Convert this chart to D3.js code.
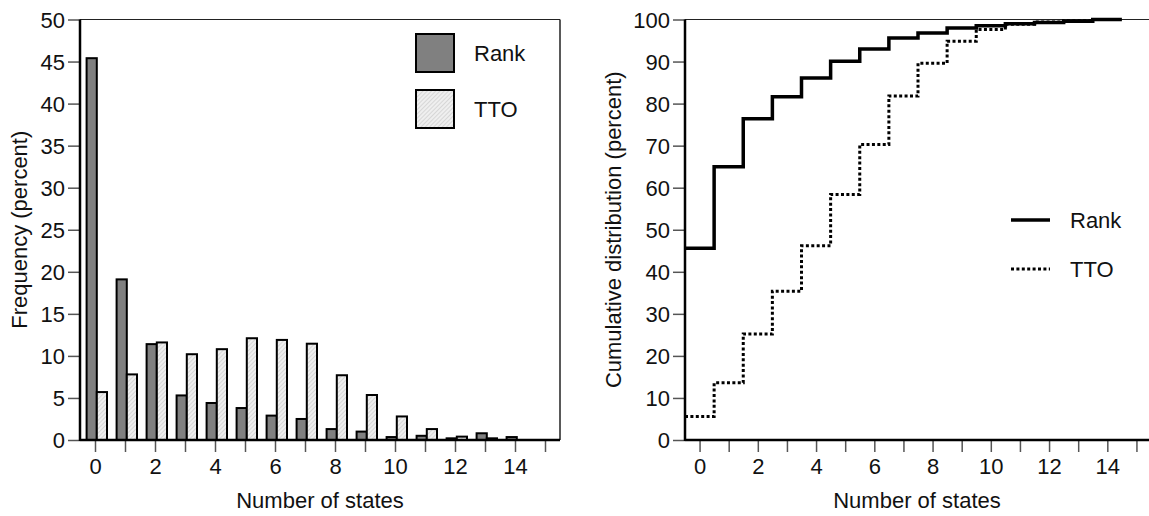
<!DOCTYPE html>
<html lang="en">
<head>
  <meta charset="UTF-8">
  <title>Number of states: Rank vs TTO</title>
  <script src="https://d3js.org/d3.v7.min.js"></script>
  <style>
    body { margin: 0; background: #fff; }
    svg { display: block; font-family: "Liberation Sans", Arial, sans-serif; }
  </style>
</head>
<body>
  <svg id="chart" width="1149" height="516"></svg>
  <script>
    // data
    const states = [0, 1, 2, 3, 4, 5, 6, 7, 8, 9, 10, 11, 12, 13, 14];
    const rankFreq = [45.4, 19.1, 11.4, 5.3, 4.4, 3.8, 2.9, 2.5, 1.3, 1.0, 0.35, 0.5, 0.2, 0.8, 0.35];
    const ttoFreq = [5.7, 7.8, 11.6, 10.2, 10.8, 12.1, 11.9, 11.45, 7.7, 5.35, 2.8, 1.3, 0.4, 0.2, 0];
    const rankCum = [45.6, 65.0, 76.4, 81.6, 86.1, 90.1, 93.0, 95.6, 96.8, 98.0, 98.5, 99.0, 99.3, 99.6, 100];
    const ttoCum = [5.6, 13.6, 25.2, 35.4, 46.2, 58.4, 70.3, 81.8, 89.6, 94.8, 97.6, 98.9, 99.4, 99.7];
    const seriesNames = ["Rank", "TTO"];
    const xTicks = d3.range(0, 16);
    const freqTicks = d3.range(0, 51, 5);
    const cumTicks = d3.range(0, 101, 10);

    const svg = d3.select("#chart");

    // hatch for the TTO bars
    const pat = svg.append("defs").append("pattern")
      .attr("id", "hatch")
      .attr("patternUnits", "userSpaceOnUse")
      .attr("width", 3).attr("height", 3)
      .attr("patternTransform", "rotate(45)");
    pat.append("rect").attr("width", 3).attr("height", 3).attr("fill", "#efefef");
    pat.append("line").attr("x1", 0).attr("y1", 0).attr("x2", 0).attr("y2", 3)
      .attr("stroke", "#b5b5b5").attr("stroke-width", 0.8);

    const plotTop = 19.5, plotBottom = 440;

    function drawAxes(x, y, yTicks, xLabel, yLabel, yTitleX, rightBorder) {
      const [x0, x1] = x.range();
      // thin top / right frame
      svg.append("line").attr("x1", x0).attr("x2", x1).attr("y1", plotTop).attr("y2", plotTop)
        .attr("stroke", "#222").attr("stroke-width", 1.2);
      if (rightBorder) {
        svg.append("line").attr("x1", x1).attr("x2", x1).attr("y1", plotTop).attr("y2", plotBottom)
          .attr("stroke", "#222").attr("stroke-width", 1.5);
      }

      const gx = svg.append("g").attr("transform", `translate(0,${plotBottom})`)
        .call(d3.axisBottom(x).tickValues(xTicks).tickSize(12).tickPadding(6)
          .tickFormat(d => d % 2 === 0 ? d : ""));
      gx.select(".domain").remove();
      gx.selectAll(".tick line").attr("stroke", "#555").attr("stroke-width", 1.5);
      gx.selectAll(".tick text").attr("font-size", 22).attr("fill", "#111");

      const gy = svg.append("g").attr("transform", `translate(${x0},0)`)
        .call(d3.axisLeft(y).tickValues(yTicks).tickSize(12).tickPadding(3));
      gy.select(".domain").remove();
      gy.selectAll(".tick line").attr("stroke", "#555").attr("stroke-width", 1.5);
      gy.selectAll(".tick text").attr("font-size", 22).attr("fill", "#111")
        .attr("dy", "0.36em");

      // thick left / bottom axis lines
      svg.append("line").attr("x1", x0).attr("x2", x0).attr("y1", plotTop).attr("y2", plotBottom + 1)
        .attr("stroke", "#000").attr("stroke-width", 2.5);
      svg.append("line").attr("x1", x0).attr("x2", x1).attr("y1", plotBottom).attr("y2", plotBottom)
        .attr("stroke", "#000").attr("stroke-width", 2.5);

      svg.append("text").attr("x", (x0 + Math.min(x1, 1149)) / 2)
        .attr("y", 508).attr("text-anchor", "middle")
        .attr("font-size", 22).attr("fill", "#111").text(xLabel);
      svg.append("text")
        .attr("transform", `translate(${yTitleX},${(plotTop + plotBottom) / 2}) rotate(-90)`)
        .attr("text-anchor", "middle").attr("font-size", 22).attr("fill", "#111").text(yLabel);
    }

    // ---- left: frequency bars ----
    const xL = d3.scaleLinear().domain([-0.5, 15.5]).range([80, 560]);
    const yL = d3.scaleLinear().domain([0, 50]).range([plotBottom, plotTop]);

    const barSets = [
      { vals: rankFreq, from: -0.28, to: 0.06, fill: "#808080" },
      { vals: ttoFreq, from: 0.06, to: 0.40, fill: "url(#hatch)" }
    ];
    barSets.forEach(s => {
      svg.append("g").selectAll("rect")
        .data(states.filter((d, i) => s.vals[i] > 0))
        .join("rect")
        .attr("x", d => xL(d + s.from))
        .attr("width", d => xL(d + s.to) - xL(d + s.from))
        .attr("y", d => yL(s.vals[d]))
        .attr("height", d => yL(0) - yL(s.vals[d]))
        .attr("fill", s.fill)
        .attr("stroke", "#000").attr("stroke-width", 2);
    });

    drawAxes(xL, yL, freqTicks, "Number of states", "Frequency (percent)", 27, true);

    // legend left
    const legL = svg.append("g");
    seriesNames.forEach((name, i) => {
      legL.append("rect").attr("x", 416).attr("y", 34 + i * 56).attr("width", 38).attr("height", 38)
        .attr("fill", barSets[i].fill).attr("stroke", "#000").attr("stroke-width", 2);
      legL.append("text").attr("x", 474).attr("y", 53 + i * 56).attr("dy", "0.36em")
        .attr("font-size", 22).attr("fill", "#111").text(name);
    });

    // ---- right: cumulative steps ----
    const xR = d3.scaleLinear().domain([-0.5, 15.5]).range([685, 1151]);
    const yR = d3.scaleLinear().domain([0, 100]).range([plotBottom, plotTop]);

    const step = d3.line().curve(d3.curveStepAfter)
      .x(d => xR(d[0])).y(d => yR(d[1]));
    const toSteps = vals => {
      const pts = vals.map((v, i) => [i - 0.5, v]);
      pts.push([vals.length - 0.5, vals[vals.length - 1]]);
      return pts;
    };

    const lineStyles = [
      { vals: rankCum, width: 3.5, dash: null },
      { vals: ttoCum, width: 3, dash: "3,2.4" }
    ];

    drawAxes(xR, yR, cumTicks, "Number of states", "Cumulative distribution (percent)", 621, false);

    lineStyles.forEach(s => {
      svg.append("path").datum(toSteps(s.vals))
        .attr("d", step)
        .attr("fill", "none").attr("stroke", "#000")
        .attr("stroke-width", s.width)
        .attr("stroke-dasharray", s.dash);
    });

    const legR = svg.append("g");
    seriesNames.forEach((name, i) => {
      legR.append("line").attr("x1", 1011).attr("x2", 1050)
        .attr("y1", 220 + i * 49).attr("y2", 220 + i * 49)
        .attr("stroke", "#000").attr("stroke-width", lineStyles[i].width)
        .attr("stroke-dasharray", lineStyles[i].dash);
      legR.append("text").attr("x", 1070).attr("y", 220 + i * 49).attr("dy", "0.36em")
        .attr("font-size", 22).attr("fill", "#111").text(name);
    });
  </script>
</body>
</html>
